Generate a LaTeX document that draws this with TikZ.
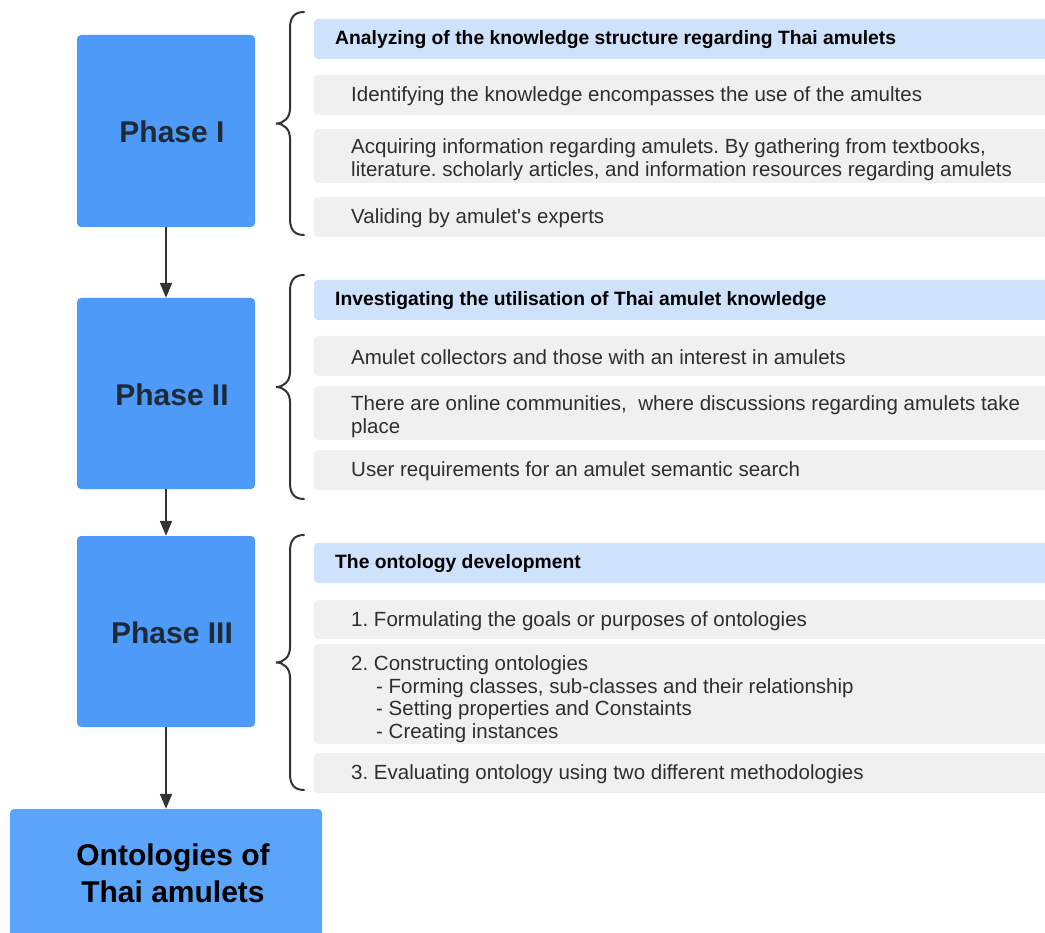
\documentclass[tikz,border=0pt]{standalone}
\usepackage{fontspec}
\setmainfont{Liberation Sans}[Ligatures=TeXOff]
\usetikzlibrary{arrows.meta}
\definecolor{phaseblue}{HTML}{4D9AF9}
\definecolor{finalblue}{HTML}{5AA4F9}
\definecolor{headblue}{HTML}{CFE2FB}
\definecolor{itemgray}{HTML}{F0F0F0}
\definecolor{inkdark}{HTML}{1E2A38}
\definecolor{linegray}{HTML}{333333}
\definecolor{textgray}{HTML}{2E2E2E}
\tikzset{
  phasebox/.style={fill=phaseblue, rounded corners=4pt, inner sep=0pt},
  finalbox/.style={fill=finalblue, rounded corners=4pt, inner sep=0pt},
  phaselabel/.style={font=\fontsize{30}{34}\selectfont\bfseries, text=inkdark, inner sep=0pt},
  finallabel/.style={font=\fontsize{30}{37}\selectfont\bfseries, text=black, align=center, inner sep=0pt},
  headbox/.style={fill=headblue, rounded corners=4pt},
  itembox/.style={fill=itemgray, rounded corners=4pt},
  headtext/.style={font=\fontsize{19.3}{22.5}\selectfont\bfseries, text=black, anchor=west, inner sep=0pt},
  itemtext/.style={font=\fontsize{20.5}{22.6}\selectfont, text=textgray, anchor=west, inner sep=0pt, align=left},
  flow/.style={draw=linegray, line width=2pt, -{Triangle[length=15pt,width=12pt]}},
  bracket/.style={draw=linegray, line width=2pt, line cap=round}
}
% brace opening to the right: x of the tip, top y, bottom y
\newcommand{\leftbrace}[3]{%
  \pgfmathsetmacro{\bmid}{(#2+#3)/2}%
  \draw[bracket] (#1+28,#2) .. controls (#1+18,#2) and (#1+14,#2+6) .. (#1+14,#2+16)
    -- (#1+14,\bmid-15) .. controls (#1+14,\bmid-6) and (#1+8,\bmid) .. (#1,\bmid)
    .. controls (#1+8,\bmid) and (#1+14,\bmid+6) .. (#1+14,\bmid+15)
    -- (#1+14,#3-16) .. controls (#1+14,#3-6) and (#1+18,#3) .. (#1+28,#3);}
\begin{document}
\frenchspacing
\begin{tikzpicture}[x=1pt,y=-1pt]
\useasboundingbox (0,0) rectangle (1045,933);
\fill[white] (0,0) rectangle (1045,933);
\clip (0,0) rectangle (1045,933);

% phase column
\node[phasebox, minimum width=178pt, minimum height=192pt] (p1) at (166,131) {};
\node[phasebox, minimum width=178pt, minimum height=191pt] (p2) at (166,393.5) {};
\node[phasebox, minimum width=178pt, minimum height=191pt] (p3) at (166,631.5) {};
\node[finalbox, minimum width=312pt, minimum height=130pt] (p4) at (166,874) {};
\node[phaselabel] (p1t) at (172,132) {Phase I};
\node[phaselabel] (p2t) at (172,395) {Phase II};
\node[phaselabel] (p3t) at (172,633) {Phase III};
\node[finallabel] (p4t) at (173,873) {Ontologies of\\Thai amulets};

\draw[flow] (p1.south) -- (p2.north);
\draw[flow] (p2.south) -- (p3.north);
\draw[flow] (p3.south) -- (p4.north);

% braces
\leftbrace{276}{12}{235}
\leftbrace{276}{275}{499}
\leftbrace{276}{535}{790}

% Phase I details
\fill[headbox] (314,19) rectangle (1060,59);
\fill[itembox] (314,75) rectangle (1060,115);
\fill[itembox] (314,129) rectangle (1060,183);
\fill[itembox] (314,197) rectangle (1060,237);
\node[headtext] (h1) at (335,40) {Analyzing of the knowledge structure regarding Thai amulets};
\node[itemtext] (a1) at (351,96) {Identifying the knowledge encompasses the use of the amultes};
\node[itemtext] (a2) at (351,160) {Acquiring information regarding amulets. By gathering from textbooks,\\literature. scholarly articles, and information resources regarding amulets};
\node[itemtext] (a3) at (351,218) {Validing by amulet's experts};

% Phase II details
\fill[headbox] (314,280) rectangle (1060,320);
\fill[itembox] (314,336) rectangle (1060,376);
\fill[itembox] (314,386) rectangle (1060,440);
\fill[itembox] (314,450) rectangle (1060,490);
\node[headtext] (h2) at (335,301) {Investigating the utilisation of Thai amulet knowledge};
\node[itemtext] (b1) at (351,357) {Amulet collectors and those with an interest in amulets};
\node[itemtext] (b2) at (351,417) {There are online communities,\ \ where discussions regarding amulets take\\place};
\node[itemtext] (b3) at (351,471) {User requirements for an amulet semantic search};

% Phase III details
\fill[headbox] (314,543) rectangle (1060,583);
\fill[itembox] (314,600) rectangle (1060,639);
\fill[itembox] (314,644) rectangle (1060,744);
\fill[itembox] (314,753) rectangle (1060,793);
\node[headtext] (h3) at (335,564) {The ontology development};
\node[itemtext] (c1) at (351,621) {1. Formulating the goals or purposes of ontologies};
\node[itemtext] (c2) at (351,699) {2. Constructing ontologies\\\hspace*{25pt}- Forming classes, sub-classes and their relationship\\\hspace*{25pt}- Setting properties and Constaints\\\hspace*{25pt}- Creating instances};
\node[itemtext] (c3) at (351,774) {3. Evaluating ontology using two different methodologies};
\end{tikzpicture}
\end{document}
